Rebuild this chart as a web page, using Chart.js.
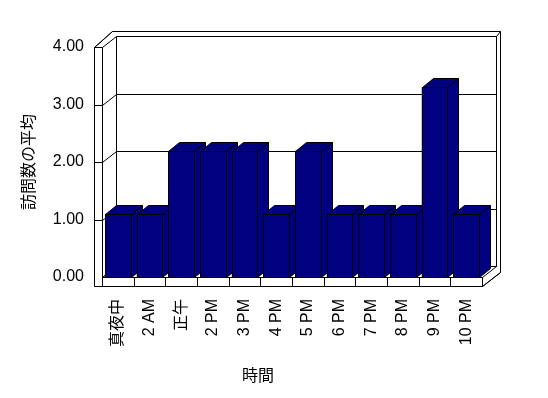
<!DOCTYPE html>
<html>
<head>
<meta charset="utf-8">
<script src="https://cdn.jsdelivr.net/npm/chart.js@4.4.0/dist/chart.umd.min.js"></script>
<style>
  html, body { margin: 0; padding: 0; background: #fff; }
  #wrap { width: 548px; height: 398px; }
</style>
</head>
<body>
<div id="wrap"><canvas id="myChart"></canvas></div>
<script>
const categories = ["真夜中", "2 AM", "正午", "2 PM", "3 PM", "4 PM", "5 PM", "6 PM", "7 PM", "8 PM", "9 PM", "10 PM"];
const visits = [1.1, 1.1, 2.2, 2.2, 2.2, 1.1, 2.2, 1.1, 1.1, 1.1, 3.3, 1.1];
const yTicks = [0, 1, 2, 3, 4];
const xTitle = "時間";
const yTitle = "訪問数の平均";

const FONT = "'Liberation Sans', 'Noto Sans CJK JP', sans-serif";
const NAVY = "#000080";
// depth of the walls and of the bars (Excel style 3D)
const DX = 14, DY = -11;
const BX = 11, BY = -9;

function px(v) { return Math.round(v) + 0.5; }

function poly(ctx, pts, fill) {
  ctx.beginPath();
  ctx.moveTo(px(pts[0][0]), px(pts[0][1]));
  for (let i = 1; i < pts.length; i++) ctx.lineTo(px(pts[i][0]), px(pts[i][1]));
  ctx.closePath();
  if (fill) { ctx.fillStyle = fill; ctx.fill(); }
  ctx.stroke();
}

function seg(ctx, x1, y1, x2, y2) {
  ctx.beginPath();
  ctx.moveTo(px(x1), px(y1));
  ctx.lineTo(px(x2), px(y2));
  ctx.stroke();
}

const box3d = {
  id: "box3d",
  beforeDatasetsDraw(chart) {
    const ctx = chart.ctx;
    const { left: L, right: R, top: T, bottom: B } = chart.chartArea;
    const ys = chart.scales.y;
    const xs = chart.scales.x;
    ctx.save();
    ctx.strokeStyle = "#000";
    ctx.lineWidth = 1;

    // back wall slab (outer outline)
    poly(ctx, [[L + 10, T - 16], [R + 18, T - 16], [R + 18, B - 5], [R, B + 9], [L - 8, B + 9], [L - 8, T]], "#fff");
    // back wall front face
    poly(ctx, [[L + DX, T + DY], [R + DX, T + DY], [R + DX, B + DY], [L + DX, B + DY]], "#fff");
    seg(ctx, R + DX, T + DY, R + 18, T - 16);
    // left wall
    poly(ctx, [[L - 8, T], [L, T], [L, B + 9], [L - 8, B + 9]], "#fff");
    seg(ctx, L - 8, T, L + 10, T - 16);
    seg(ctx, L, T, L + DX, T + DY);
    // floor
    poly(ctx, [[L, B], [R, B], [R + DX, B + DY], [L + DX, B + DY]], "#fff");
    poly(ctx, [[L, B], [R, B], [R, B + 9], [L, B + 9]], "#fff");
    seg(ctx, R, B + 9, R + 18, B - 5);
    seg(ctx, R + DX, B + DY, R + DX, T + DY);

    // category dividers on the floor edge
    const n = categories.length;
    for (let i = 1; i < n; i++) {
      const xb = (xs.getPixelForValue(i - 1) + xs.getPixelForValue(i)) / 2;
      seg(ctx, xb, B, xb, B + 9);
    }

    // gridlines on back wall and left wall
    yTicks.forEach(v => {
      const yy = ys.getPixelForValue(v);
      if (v > 0 && v < 4) {
        seg(ctx, L + DX, yy + DY, R + DX, yy + DY);
        seg(ctx, L - 8, yy, L, yy);
      }
      if (v < 4) seg(ctx, L, yy, L + DX, yy + DY);
    });
    ctx.restore();
  },
  afterDatasetsDraw(chart) {
    const ctx = chart.ctx;
    const meta = chart.getDatasetMeta(0);
    ctx.save();
    ctx.strokeStyle = "#000";
    ctx.lineWidth = 1;
    meta.data.forEach(bar => {
      const p = bar.getProps(["x", "y", "base", "width"], true);
      const l = p.x - p.width / 2, r = p.x + p.width / 2;
      const t = p.y, b = p.base;
      poly(ctx, [[r, t], [r + BX, t + BY], [r + BX, b + BY], [r, b]], NAVY);
      poly(ctx, [[l, t], [l + BX, t + BY], [r + BX, t + BY], [r, t]], NAVY);
      poly(ctx, [[l, t], [r, t], [r, b], [l, b]], NAVY);
    });
    ctx.restore();
  },
  afterDraw(chart) {
    const ctx = chart.ctx;
    ctx.save();
    ctx.fillStyle = "#000";
    ctx.font = "16px " + FONT;
    ctx.textAlign = "center";
    ctx.textBaseline = "middle";
    ctx.fillText(xTitle, 258, 377);
    ctx.restore();
  }
};

new Chart(document.getElementById("myChart"), {
  type: "bar",
  data: {
    labels: categories,
    datasets: [{
      label: yTitle,
      data: visits,
      backgroundColor: NAVY,
      borderColor: "#000",
      borderWidth: 1,
      categoryPercentage: 1,
      barPercentage: 0.82
    }]
  },
  options: {
    responsive: true,
    maintainAspectRatio: false,
    animation: false,
    layout: { padding: { top: 47, right: 66, left: 0, bottom: 0 } },
    plugins: {
      legend: { display: false },
      tooltip: { enabled: false }
    },
    scales: {
      x: {
        grid: { display: false, drawTicks: false },
        border: { display: false },
        ticks: {
          color: "#000",
          font: { family: FONT, size: 16 },
          minRotation: 90,
          maxRotation: 90,
          autoSkip: false,
          padding: 22
        },
        afterFit(scale) { scale.height = 121; }
      },
      y: {
        min: 0,
        max: 4,
        grid: { display: false, drawTicks: false },
        border: { display: false },
        ticks: {
          stepSize: 1,
          color: "#000",
          font: { family: FONT, size: 16 },
          padding: 18,
          callback: (v) => Number(v).toFixed(2)
        },
        title: {
          display: true,
          text: yTitle,
          color: "#000",
          font: { family: FONT, size: 16 },
          padding: { top: 20, bottom: 0 }
        },
        afterFit(scale) { scale.width = 102; }
      }
    }
  },
  plugins: [box3d]
});
</script>
</body>
</html>
